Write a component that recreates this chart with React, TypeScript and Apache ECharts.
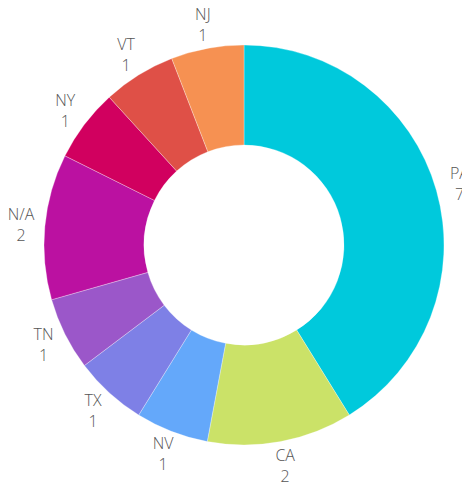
import React, { useEffect, useRef } from "react";
import * as echarts from "echarts";

const categories = ["PA", "CA", "NV", "TX", "TN", "N/A", "NY", "VT", "NJ"];
const values = [7, 2, 1, 1, 1, 2, 1, 1, 1];
const colors = ["#00c9dc", "#cbe268", "#64a8fa", "#7e80e6", "#9b57c9", "#bb11a1", "#d1005f", "#df5047", "#f69152"];

export default function App() {
  const ref = useRef<HTMLDivElement>(null);
  useEffect(() => {
    if (!ref.current) return;
    const chart = echarts.init(ref.current, null, { renderer: "svg" });
    const data = categories.map((name, i) => ({ name, value: values[i], itemStyle: { color: colors[i] } }));
    chart.setOption({
      animation: false,
      series: [
        {
          type: "pie",
          center: [244, 245],
          radius: [100, 200],
          startAngle: 90,
          clockwise: true,
          silent: true,
          itemStyle: { borderColor: "rgba(255,255,255,0.6)", borderWidth: 0.5 },
          label: { show: false },
          labelLine: { show: false },
          data,
        },
        {
          type: "pie",
          center: [244, 245],
          radius: [220, 222],
          startAngle: 90,
          clockwise: true,
          silent: true,
          color: ["#555555"],
          itemStyle: { color: "#555555", opacity: 0, borderWidth: 0 },
          label: {
            show: true,
            position: "inside",
            rotate: 0,
            formatter: "{b}\n{c}",
            color: "#555555",
            opacity: 1,
            textBorderWidth: 0,
            fontFamily: "Open Sans",
            fontSize: 16,
            fontWeight: 300,
            lineHeight: 21,
            align: "center",
          },
          labelLine: { show: false },
          data: categories.map((name, i) => ({ name, value: values[i] })),
        },
      ],
    });
    return () => chart.dispose();
  }, []);
  return <div ref={ref} style={{ width: 462, height: 488, position: "absolute", left: 0, top: 0 }} />;
}
